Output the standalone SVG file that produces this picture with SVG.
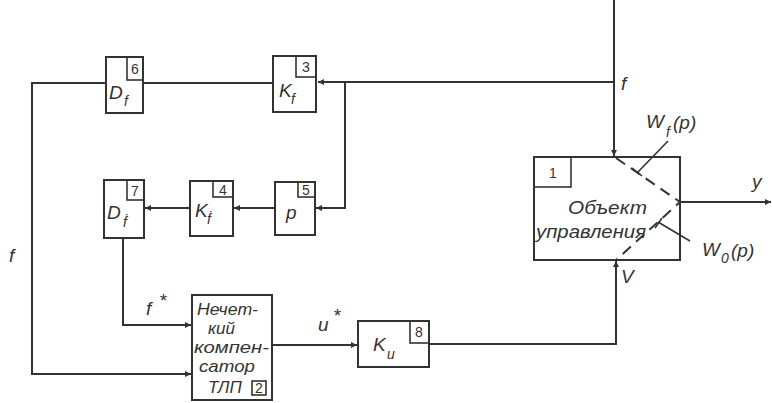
<svg xmlns="http://www.w3.org/2000/svg" width="772" height="403" viewBox="0 0 772 403">
<defs>
<marker id="ar" viewBox="0 0 10 10" refX="10" refY="5" markerWidth="9" markerHeight="6" markerUnits="userSpaceOnUse" orient="auto">
<path d="M0,0 L10,5 L0,10 z" fill="#333"/>
</marker>
</defs>
<style>
.b{fill:#fff;stroke:#333;stroke-width:2}
.n{fill:none;stroke:#333;stroke-width:1.6}
.c{fill:none;stroke:#333;stroke-width:2}
.d{fill:none;stroke:#333;stroke-width:2;stroke-dasharray:11 7}
.t{font-family:"Liberation Sans",Arial,sans-serif;font-style:italic;fill:#333;font-size:19px}
.s{font-family:"Liberation Sans",Arial,sans-serif;font-style:italic;fill:#333;font-size:14px}
.m{font-family:"Liberation Sans",Arial,sans-serif;font-style:italic;fill:#333;font-size:17px}
.num{font-family:"Liberation Sans",Arial,sans-serif;fill:#333;font-size:14px;text-anchor:middle}
</style>
<rect width="772" height="403" fill="#fff"/>
<g id="connectors">
<path class="c" d="M614,0 V156" marker-end="url(#ar)"/>
<path class="c" d="M614,82 H318" marker-end="url(#ar)"/>
<path class="c" d="M345,82 V208 H316" marker-end="url(#ar)"/>
<path class="c" d="M273,83 H143"/>
<path class="c" d="M106,83 H32 V374 H191" marker-end="url(#ar)"/>
<path class="c" d="M275,208 H234" marker-end="url(#ar)"/>
<path class="c" d="M190,208 H145" marker-end="url(#ar)"/>
<path class="c" d="M123,238 V325 H191" marker-end="url(#ar)"/>
<path class="c" d="M272,345 H357" marker-end="url(#ar)"/>
<path class="c" d="M429,344 H616 V261" marker-end="url(#ar)"/>
<path class="c" d="M680,202 H771" marker-end="url(#ar)"/>
</g>
<g id="n6"><rect class="b" x="106" y="57" width="37" height="56"/><rect class="n" x="127" y="57" width="16" height="23"/><text class="num" x="135" y="74">6</text><text class="t" x="109" y="99" font-size="20">D</text><text class="s" x="124" y="106">f</text></g>
<g id="n3"><rect class="b" x="273" y="56" width="43" height="56"/><rect class="n" x="296" y="56" width="20" height="21"/><text class="num" x="306" y="72">3</text><text class="t" x="279" y="97" font-size="16">K</text><text class="s" x="291" y="104">f</text></g>
<g id="n7"><rect class="b" x="104" y="180" width="40" height="58"/><rect class="n" x="127" y="180" width="17" height="20"/><text class="num" x="135" y="196">7</text><text class="t" x="107" y="219" font-size="20">D</text><text class="s" x="123" y="227" font-size="15">ḟ</text></g>
<g id="n4"><rect class="b" x="190" y="181" width="43" height="55"/><rect class="n" x="213" y="181" width="20" height="16"/><text class="num" x="223" y="195">4</text><text class="t" x="195" y="217" font-size="16">K</text><text class="s" x="207" y="224" font-size="15">ḟ</text></g>
<g id="n5"><rect class="b" x="275" y="182" width="40" height="53"/><rect class="n" x="298" y="182" width="17" height="15"/><text class="num" x="306" y="195">5</text><text class="t" x="286" y="219" font-size="21">p</text></g>
<g id="n2"><rect class="b" x="192" y="295" width="80" height="105"/><rect class="n" x="252" y="381" width="14" height="14"/><text class="num" x="259" y="393" font-size="12">2</text>
<text class="m" x="197" y="315" textLength="61" lengthAdjust="spacingAndGlyphs">Нечет-</text><text class="m" x="208" y="334">кий</text><text class="m" x="194" y="353" textLength="75" lengthAdjust="spacingAndGlyphs">компен-</text><text class="m" x="199" y="372" textLength="56" lengthAdjust="spacingAndGlyphs">сатор</text><text class="m" x="208" y="393">ТЛП</text></g>
<g id="n8"><rect class="b" x="358" y="321" width="71" height="46"/><rect class="n" x="410" y="321" width="19" height="22"/><text class="num" x="419" y="337">8</text><text class="t" x="373" y="351" font-size="17">K</text><text class="s" x="387" y="359" font-size="16">u</text></g>
<g id="n1"><rect class="b" x="534" y="157" width="146" height="103"/><rect class="n" x="534" y="157" width="37" height="30"/><text class="num" x="553" y="178" font-size="16">1</text>
<text class="t" x="568" y="214" font-size="20" textLength="79" lengthAdjust="spacingAndGlyphs">Объект</text><text class="t" x="536" y="238" font-size="20" textLength="110" lengthAdjust="spacingAndGlyphs">управления</text>
<path class="d" d="M616,158 L680,202 L616,260"/>
<path class="n" d="M668,141 L638,172 M632,168 L642,176"/>
<path class="n" d="M690,241 L658,222 M655,228 L662,218"/>
</g>
<g id="labels">
<text class="t" x="621" y="90">f</text>
<text class="t" x="646" y="128" font-size="20">W</text><text class="s" x="666" y="137">f</text><text class="t" x="673" y="129" font-size="20">(p)</text>
<text class="t" x="752" y="188" font-size="20">y</text>
<text class="t" x="702" y="256" font-size="20">W</text><text class="s" x="721" y="263">0</text><text class="t" x="731" y="257" font-size="20">(p)</text>
<text class="t" x="621" y="283">V</text>
<text class="t" x="9" y="262">f</text>
<text class="t" x="146" y="315">f</text><text class="t" x="159" y="307" font-size="17">*</text>
<text class="t" x="318" y="331">u</text><text class="t" x="333" y="322" font-size="17">*</text>
</g>
</svg>
